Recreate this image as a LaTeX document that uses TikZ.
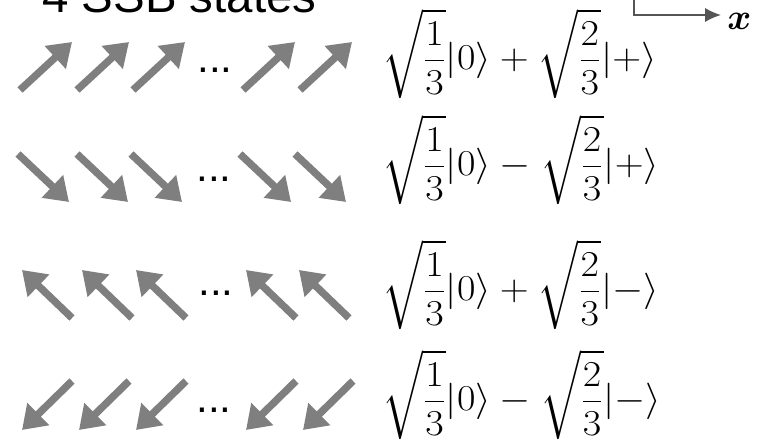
\documentclass[tikz,border=0pt]{standalone}
\usepackage{amsmath}
\usepackage{amssymb}
\usepackage{bm}
\usepackage{graphicx}
\usepackage{fontspec}
\newfontfamily\arialfont{Liberation Sans}
\usepackage{tikz}
\usetikzlibrary{arrows.meta,positioning,calc}
\definecolor{spingray}{HTML}{7F7F7F}
\definecolor{axisgray}{HTML}{555555}
\newcommand{\ketrow}[1]{\scalebox{1.1}[1]{$\displaystyle #1$}}
\tikzset{
  spin/.style={-{Triangle[length=13pt,width=17pt]}, line width=4.2pt, draw=spingray},
  ket/.style={anchor=west, inner sep=0pt, font=\fontsize{21}{25}\selectfont},
  dotsnode/.style={inner sep=0pt, font=\arialfont\fontsize{24}{28}\selectfont},
  axisline/.style={-{Latex[length=9pt,width=8pt]}, line width=1pt, draw=axisgray},
}

\begin{document}
\begin{tikzpicture}[x=0.02cm, y=-0.02cm]
\useasboundingbox (0,0) rectangle (763,442);
% title and axis
\node[anchor=base west, inner sep=0pt, font=\arialfont\fontsize{27}{32}\selectfont] (title) at (42,13) {4 SSB states};
\coordinate (ytop) at (634,-10);
\coordinate (corner) at (634,15);
\coordinate (xend) at (721,15);
\draw[axisline] (ytop) -- (corner) -- (xend);
\node[anchor=west, inner sep=0pt, font=\fontsize{20}{24}\selectfont] (xlab) at (727,21) {$\bm{x}$};
% row 1
\draw[spin] (20,90) -- (72,42);
\draw[spin] (77,90) -- (129,42);
\draw[spin] (133,90) -- (185,42);
\node[dotsnode] (d1) at (215,70) {...};
\draw[spin] (243,90) -- (295,42);
\draw[spin] (300,90) -- (352,42);
\node[ket] (k1) at (382,54) {\ketrow{\sqrt{\frac{1}{3}}|0\rangle+\sqrt{\frac{2}{3}}|+\rangle}};
% row 2
\draw[spin] (18,154) -- (69,202);
\draw[spin] (77,154) -- (128,202);
\draw[spin] (131,154) -- (182,202);
\node[dotsnode] (d2) at (214,179) {...};
\draw[spin] (240,154) -- (291,202);
\draw[spin] (295,154) -- (346,202);
\node[ket] (k2) at (382,160) {\ketrow{\sqrt{\frac{1}{3}}|0\rangle-\sqrt{\frac{2}{3}}|+\rangle}};
% row 3
\draw[spin] (72,318) -- (22,270);
\draw[spin] (132,318) -- (82,270);
\draw[spin] (186,318) -- (136,270);
\node[dotsnode] (d3) at (216,293) {...};
\draw[spin] (296,318) -- (246,270);
\draw[spin] (349,318) -- (299,270);
\node[ket] (k3) at (382,285) {\ketrow{\sqrt{\frac{1}{3}}|0\rangle+\sqrt{\frac{2}{3}}|-\rangle}};
% row 4
\draw[spin] (72,381) -- (22,430);
\draw[spin] (129,381) -- (79,430);
\draw[spin] (186,381) -- (136,430);
\node[dotsnode] (d4) at (214,410) {...};
\draw[spin] (296,381) -- (246,430);
\draw[spin] (353,381) -- (303,430);
\node[ket] (k4) at (382,395) {\ketrow{\sqrt{\frac{1}{3}}|0\rangle-\sqrt{\frac{2}{3}}|-\rangle}};
\end{tikzpicture}
\end{document}
